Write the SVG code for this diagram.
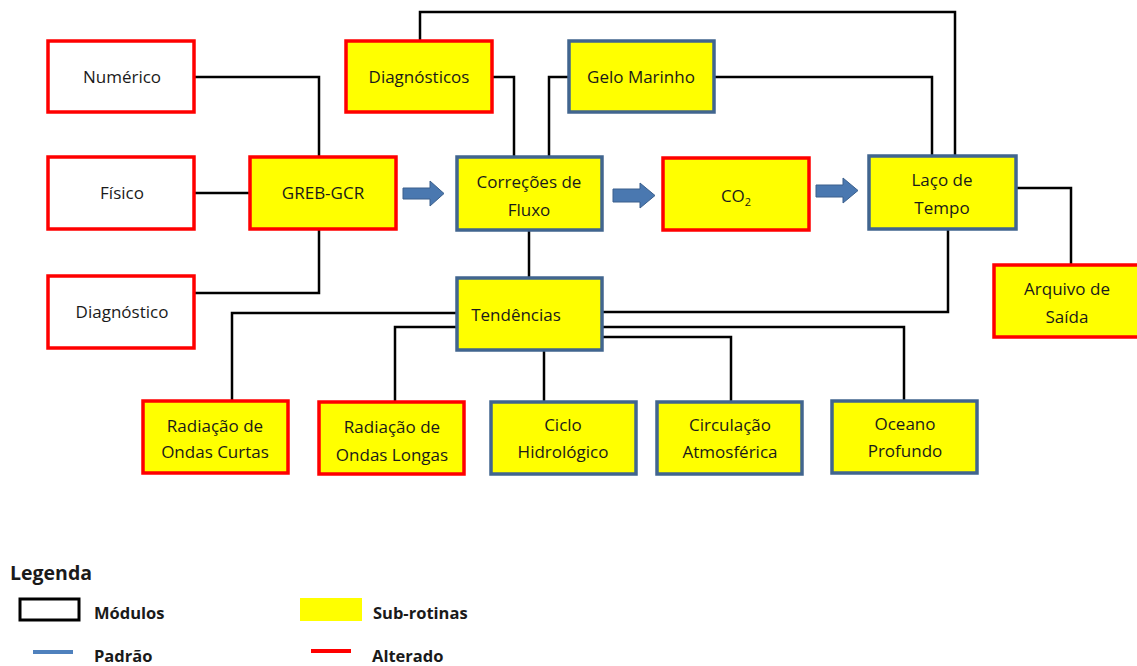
<svg xmlns="http://www.w3.org/2000/svg" width="1137" height="666" viewBox="0 0 1137 666">
<style>
.box{stroke-width:3.5}
.mod{fill:#fff;stroke:#ff0000}
.ra{fill:#ffff00;stroke:#ff0000}
.rb{fill:#ffff00;stroke:#41658f}
.t{font-family:"Open Sans","Liberation Sans",sans-serif;font-size:17px;fill:#1a1a1a;text-anchor:middle}
.c{fill:none;stroke:#000;stroke-width:2.5;stroke-linejoin:miter}
.arr{fill:#4a78b0;stroke:#3a5f8c;stroke-width:1}
.lg{font-family:"Open Sans","Liberation Sans",sans-serif;font-weight:bold;fill:#1a1a1a;font-size:16.5px}
.lgt{font-size:19.5px}
</style>
<rect width="1137" height="666" fill="#fff"/>
<g id="connectors">
<polyline class="c" points="194,77 319,77 319,157"/>
<polyline class="c" points="194,193 250,193"/>
<polyline class="c" points="319,229 319,293 194,293"/>
<polyline class="c" points="420,41 420,12 955,12 955,156"/>
<polyline class="c" points="492,77 514,77 514,157"/>
<polyline class="c" points="569,77 549,77 549,157"/>
<polyline class="c" points="714,77 932,77 932,156"/>
<polyline class="c" points="1016,188 1071,188 1071,265"/>
<polyline class="c" points="529,230 529,278"/>
<polyline class="c" points="948,229 948,312 602,312"/>
<polyline class="c" points="457,313 232,313 232,401"/>
<polyline class="c" points="457,327 395,327 395,402"/>
<polyline class="c" points="544,350 544,402"/>
<polyline class="c" points="602,327 904,327 904,401"/>
<polyline class="c" points="602,337 731,337 731,402"/>
<polygon class="arr" points="403,188 430,188 430,181 444,193.5 430,206 430,199 403,199"/>
<polygon class="arr" points="613,189 640,189 640,183 655,195.5 640,208 640,202 613,202"/>
<polygon class="arr" points="816,185 843,185 843,178 858,190.5 843,203 843,197 816,197"/>
</g>
<g id="numerico"><rect class="box mod" x="48" y="41" width="146" height="71"/><text class="t" x="122" y="83">Numérico</text></g>
<g id="fisico"><rect class="box mod" x="48" y="157" width="146" height="72"/><text class="t" x="122" y="199">Físico</text></g>
<g id="diagnostico"><rect class="box mod" x="48" y="276" width="146" height="72"/><text class="t" x="122" y="318">Diagnóstico</text></g>
<g id="greb"><rect class="box ra" x="250" y="157" width="146" height="72"/><text class="t" x="323" y="199">GREB-GCR</text></g>
<g id="diagnosticos"><rect class="box ra" x="346" y="41" width="146" height="71"/><text class="t" x="419" y="83">Diagnósticos</text></g>
<g id="gelo"><rect class="box rb" x="569" y="41" width="145" height="71"/><text class="t" x="641" y="83">Gelo Marinho</text></g>
<g id="correcoes"><rect class="box rb" x="457" y="157" width="145" height="73"/><text class="t" x="529" y="188">Correções de</text><text class="t" x="529" y="216">Fluxo</text></g>
<g id="co2"><rect class="box ra" x="663" y="158" width="146" height="72"/><text class="t" x="736" y="202">CO<tspan font-size="11" dy="4">2</tspan></text></g>
<g id="laco"><rect class="box rb" x="869" y="156" width="147" height="73"/><text class="t" x="942" y="186">Laço de</text><text class="t" x="942" y="214">Tempo</text></g>
<g id="arquivo"><rect class="box ra" x="994" y="265" width="145" height="72"/><text class="t" x="1067" y="295">Arquivo de</text><text class="t" x="1067" y="323">Saída</text></g>
<g id="tendencias"><rect class="box rb" x="457" y="278" width="145" height="72"/><text class="t" x="516" y="321">Tendências</text></g>
<g id="radcurtas"><rect class="box ra" x="143" y="401" width="145" height="72"/><text class="t" x="215" y="432">Radiação de</text><text class="t" x="215" y="458">Ondas Curtas</text></g>
<g id="radlongas"><rect class="box ra" x="319" y="402" width="145" height="72"/><text class="t" x="392" y="433">Radiação de</text><text class="t" x="392" y="461">Ondas Longas</text></g>
<g id="ciclo"><rect class="box rb" x="491" y="402" width="145" height="72"/><text class="t" x="563" y="431">Ciclo</text><text class="t" x="563" y="458">Hidrológico</text></g>
<g id="circulacao"><rect class="box rb" x="657" y="402" width="145" height="72"/><text class="t" x="730" y="431">Circulação</text><text class="t" x="730" y="458">Atmosférica</text></g>
<g id="oceano"><rect class="box rb" x="832" y="401" width="145" height="72"/><text class="t" x="905" y="430">Oceano</text><text class="t" x="905" y="457">Profundo</text></g>
<g id="legend">
<text class="lg lgt" x="10" y="580">Legenda</text>
<rect x="20" y="599" width="59" height="21" fill="none" stroke="#000" stroke-width="3"/>
<text class="lg" x="94" y="619">Módulos</text>
<rect x="300" y="598" width="62" height="23" fill="#ffff00"/>
<text class="lg" x="373" y="619">Sub-rotinas</text>
<line x1="33" y1="652" x2="73" y2="652" stroke="#4f81bd" stroke-width="4"/>
<text class="lg" x="94" y="662">Padrão</text>
<line x1="311" y1="651" x2="351" y2="651" stroke="#ff0000" stroke-width="4"/>
<text class="lg" x="372" y="662">Alterado</text>
</g>
</svg>
